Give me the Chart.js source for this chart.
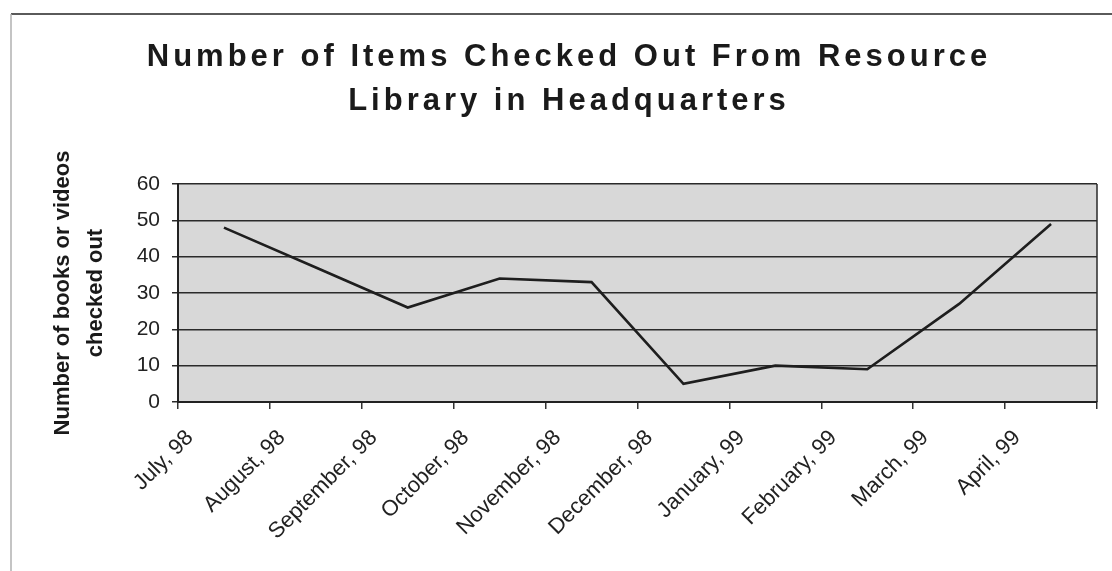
<!DOCTYPE html>
<html>
<head>
<meta charset="utf-8">
<title>Resource Library Checkouts</title>
<script src="https://cdn.jsdelivr.net/npm/chart.js@4.4.1/dist/chart.umd.min.js"></script>
<style>
  html, body { margin: 0; padding: 0; background: #fff; }
  #wrap { width: 1112px; height: 571px; }
</style>
</head>
<body>
<div id="wrap"><canvas id="chart" width="1112" height="571"></canvas></div>
<script>
// Monthly checkouts, July 98 - April 99
const titleLines = ["Number of Items Checked Out From Resource", "Library in Headquarters"];
const yTitleLines = ["Number of books or videos", "checked out"];
const months = [
  "July, 98", "August, 98", "September, 98", "October, 98", "November, 98",
  "December, 98", "January, 99", "February, 99", "March, 99", "April, 99"
];
const itemsOut = [48, 37, 26, 34, 33, 5, 10, 9, 27, 49];
const yTicks = [0, 10, 20, 30, 40, 50, 60];

const FONT = "'Liberation Sans', Arial, sans-serif";

// white page, thin outer frame and the grey plot panel
const framePlugin = {
  id: "frame",
  beforeDraw(chart) {
    const { ctx, chartArea: a } = chart;
    ctx.save();
    ctx.fillStyle = "#fff";
    ctx.fillRect(0, 0, chart.width, chart.height);
    ctx.strokeStyle = "#5a5a5a";
    ctx.lineWidth = 2;
    ctx.beginPath();
    ctx.moveTo(11, 14);
    ctx.lineTo(chart.width, 14);
    ctx.stroke();
    ctx.strokeStyle = "#b0b0b0";
    ctx.lineWidth = 1.5;
    ctx.beginPath();
    ctx.moveTo(11, 14);
    ctx.lineTo(11, chart.height);
    ctx.stroke();
    ctx.fillStyle = "#d8d8d8";
    ctx.fillRect(a.left, a.top, a.width, a.height);
    ctx.restore();
  },
  beforeDatasetsDraw(chart) {
    const { ctx, chartArea: a } = chart;
    ctx.save();
    ctx.strokeStyle = "#2a2a2a";
    ctx.lineWidth = 1.5;
    ctx.beginPath();
    ctx.moveTo(a.right, a.top);
    ctx.lineTo(a.right, a.bottom);
    ctx.stroke();
    ctx.restore();
  }
};

// spaced-out bold heading, two centred lines
const headingPlugin = {
  id: "heading",
  afterDraw(chart) {
    const ctx = chart.ctx;
    const spacing = 4;
    ctx.save();
    ctx.font = "bold 31px " + FONT;
    ctx.letterSpacing = spacing + "px";
    ctx.fillStyle = "#1a1a1a";
    ctx.textAlign = "center";
    ctx.textBaseline = "alphabetic";
    titleLines.forEach((line, i) => {
      ctx.fillText(line, 567 + spacing / 2, 66 + i * 44);
    });
    ctx.restore();
  }
};

new Chart(document.getElementById("chart"), {
  type: "line",
  data: {
    labels: months,
    datasets: [{
      data: itemsOut,
      borderColor: "#1e1e1e",
      borderWidth: 2.6,
      pointRadius: 0,
      tension: 0,
      fill: false
    }]
  },
  options: {
    responsive: false,
    animation: false,
    layout: { padding: { top: 184, left: 40, right: 15, bottom: 9 } },
    plugins: {
      legend: { display: false },
      tooltip: { enabled: false },
      title: { display: false }
    },
    scales: {
      x: {
        type: "category",
        offset: true,
        afterFit(scale) { scale.height = 160; },
        grid: {
          offset: true,
          drawOnChartArea: false,
          tickLength: 7,
          color: "#333",
          lineWidth: 1.5
        },
        border: { color: "#222", width: 2 },
        ticks: {
          autoSkip: false,
          minRotation: 45,
          maxRotation: 45,
          padding: 16,
          labelOffset: -34,
          color: "#222",
          font: { family: FONT, size: 22 }
        }
      },
      y: {
        min: 0,
        max: 60,
        afterFit(scale) { scale.width = 138; },
        afterBuildTicks(scale) { scale.ticks = yTicks.map(v => ({ value: v })); },
        grid: { color: "#2a2a2a", lineWidth: 1.5, tickLength: 6 },
        border: { color: "#222", width: 2 },
        ticks: {
          padding: 12,
          color: "#222",
          font: { family: FONT, size: 21 }
        },
        title: {
          display: true,
          text: yTitleLines,
          color: "#1a1a1a",
          padding: { top: 6.5, bottom: 0 },
          font: { family: FONT, size: 22, weight: "bold", lineHeight: 1.5 }
        }
      }
    }
  },
  plugins: [framePlugin, headingPlugin]
});
</script>
</body>
</html>
